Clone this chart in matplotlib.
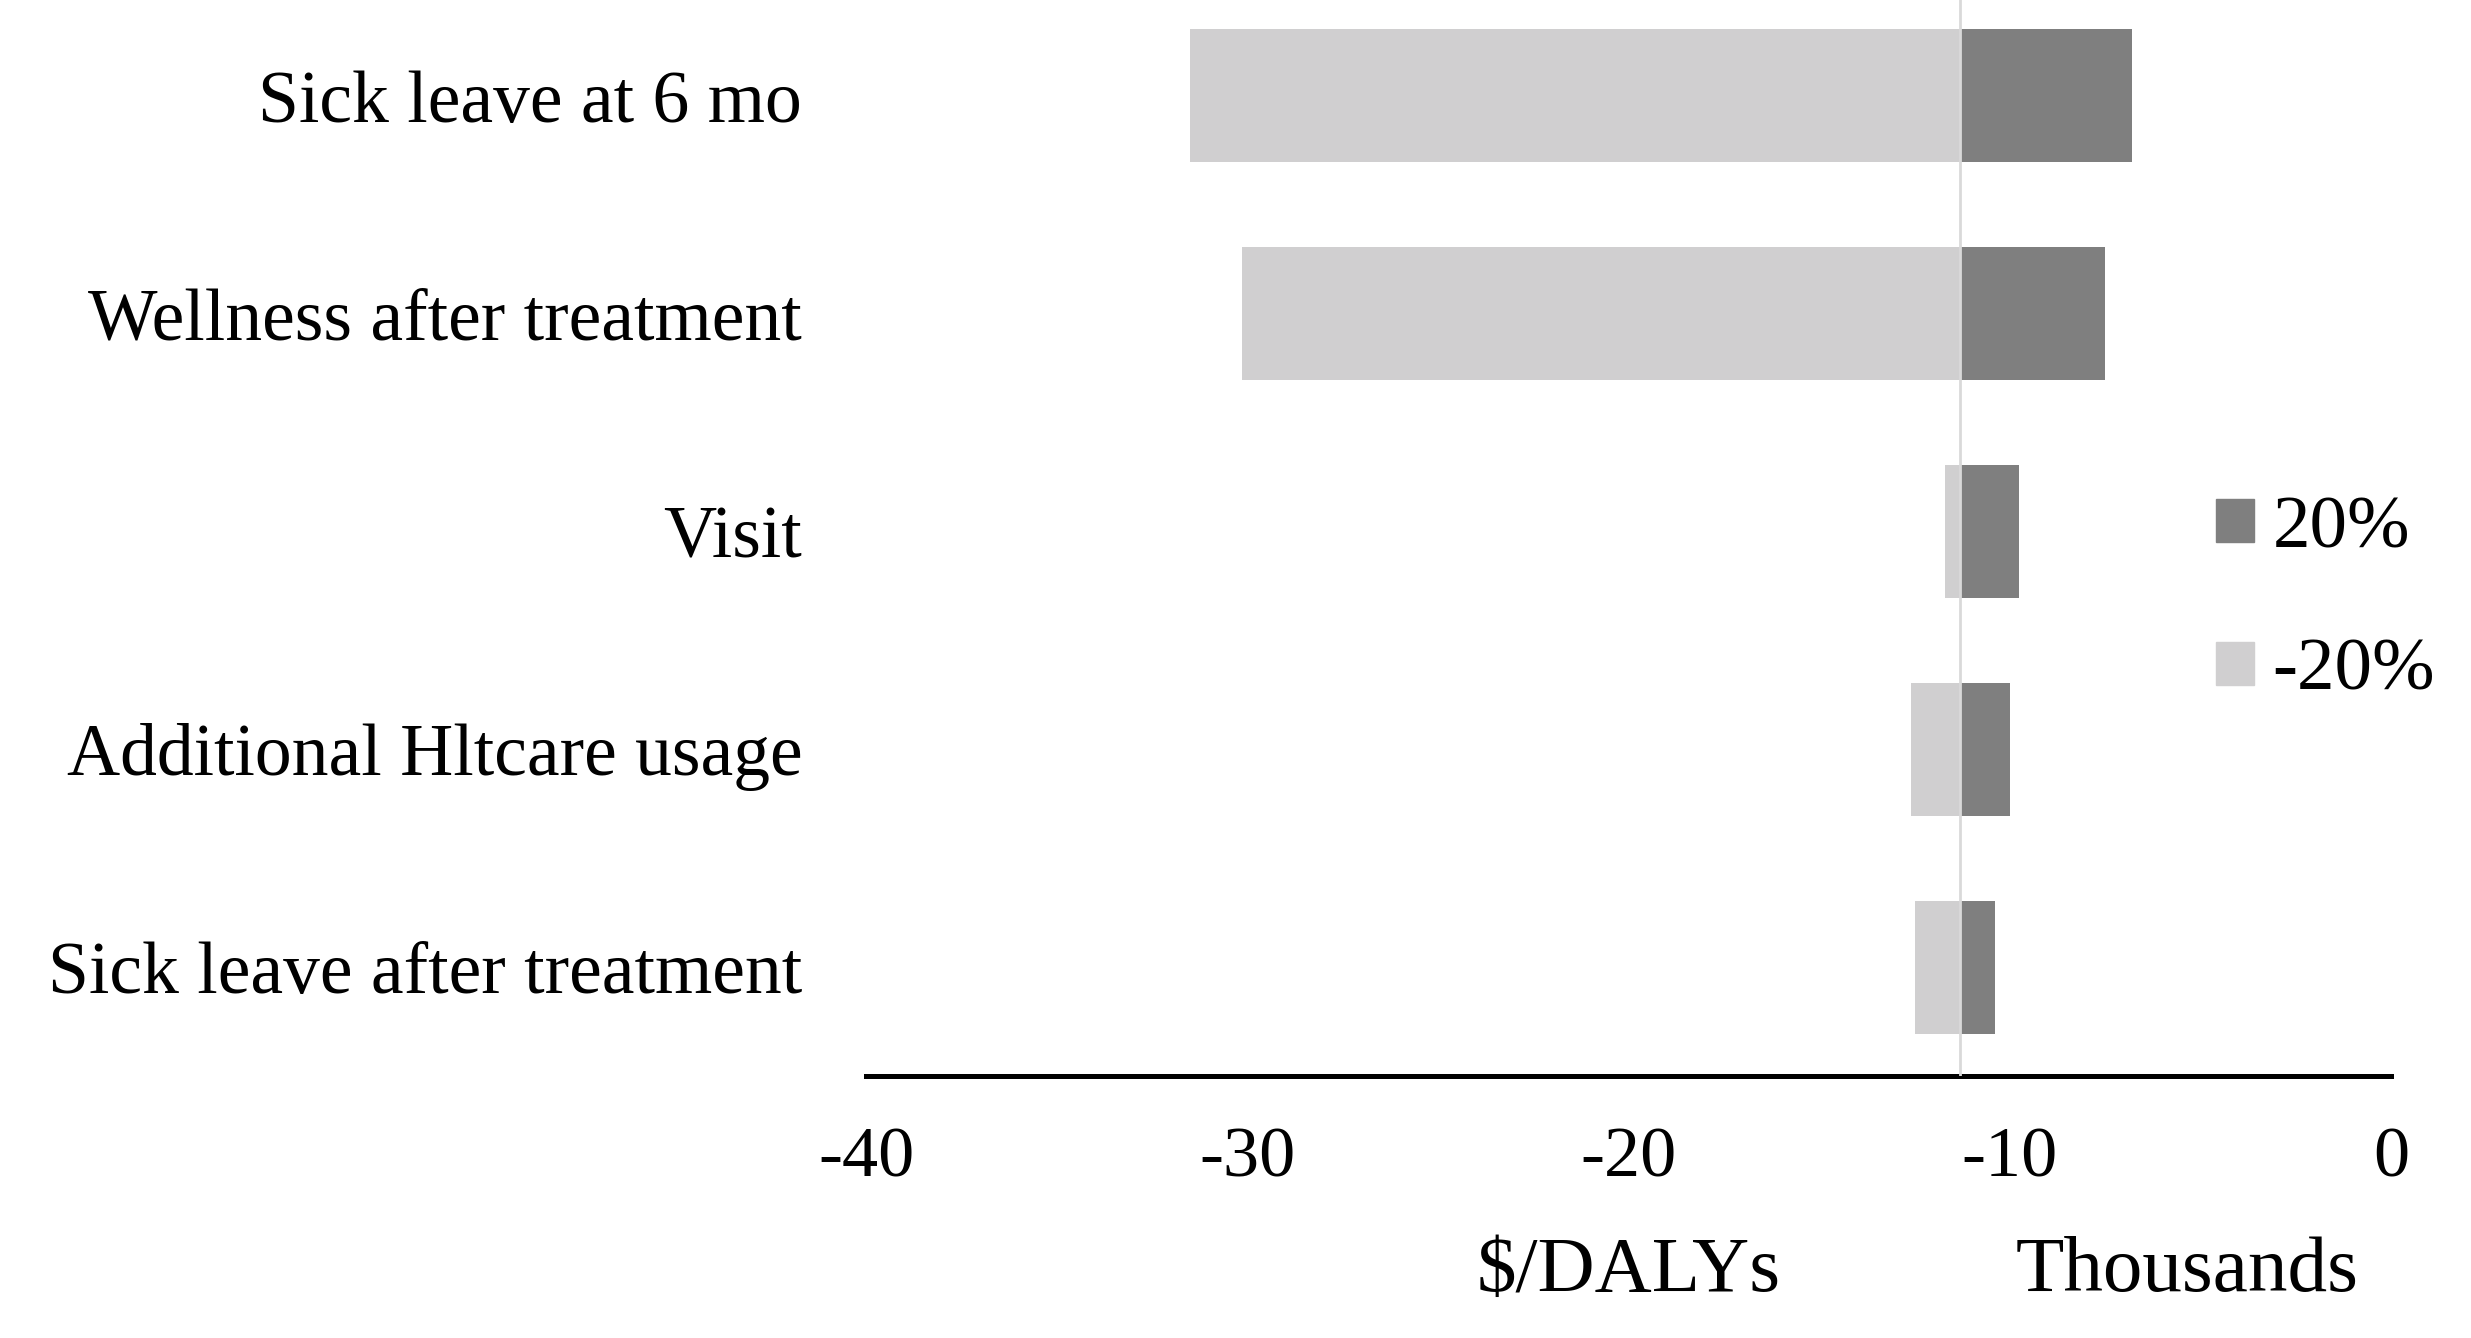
import matplotlib
matplotlib.use("Agg")
import matplotlib.pyplot as plt
from matplotlib.patches import Patch
import numpy as np

# ---- data (thousands of $/DALYs) ----
categories = ["Sick leave at 6 mo", "Wellness after treatment", "Visit",
              "Additional Hltcare usage", "Sick leave after treatment"]
base_value = -11.3
low_values = [-31.5, -30.15, -11.7, -12.6, -12.5]    # -20%
high_values = [-6.8, -7.5, -9.75, -10.0, -10.4]     # 20%
xticks = [-40, -30, -20, -10, 0]
series_labels = ["20%", "-20%"]

dark = "#7f7f7f"
light = "#d0cfd0"

plt.rcParams['font.family'] = ['Liberation Serif', 'DejaVu Serif']

fig = plt.figure(figsize=(24.71, 13.38), dpi=100)
ax = fig.add_axes([0.3505, 0.1958, 0.6172, 0.8139])

n = len(categories)
y = np.arange(n)[::-1]
low = np.array(low_values)
high = np.array(high_values)

ax.barh(y, low - base_value, left=base_value, height=0.61, color=light, zorder=2)
ax.barh(y, high - base_value, left=base_value, height=0.61, color=dark, zorder=2)
ax.axvline(base_value, color="#d9d9d9", lw=2, zorder=3)

ax.set_xlim(-40, 0)
ax.set_ylim(-0.5, n - 0.5)
ax.set_xticks(xticks)
ax.set_xticklabels([str(t) for t in xticks], fontsize=52)
ax.set_yticks(y)
ax.set_yticklabels(categories, fontsize=53)
ax.tick_params(axis='x', length=0, pad=36)
ax.tick_params(axis='y', length=0, pad=46)

for s in ["top", "right", "left"]:
    ax.spines[s].set_visible(False)
ax.spines["bottom"].set_linewidth(3.6)
ax.spines["bottom"].set_color("black")

handles = [Patch(color=dark), Patch(color=light)]
fig.legend(handles, series_labels, loc="center left",
           bbox_to_anchor=(0.897, 0.551), frameon=False, fontsize=54,
           handlelength=0.5, handleheight=0.5, handletextpad=0.25,
           labelspacing=1.0, borderpad=0, borderaxespad=0)

fig.text(0.659, 0.049, "$/DALYs", fontsize=57, ha="center", va="center")
fig.text(0.885, 0.049, "Thousands", fontsize=57, ha="center", va="center")

fig.savefig("out.png", dpi=100)
